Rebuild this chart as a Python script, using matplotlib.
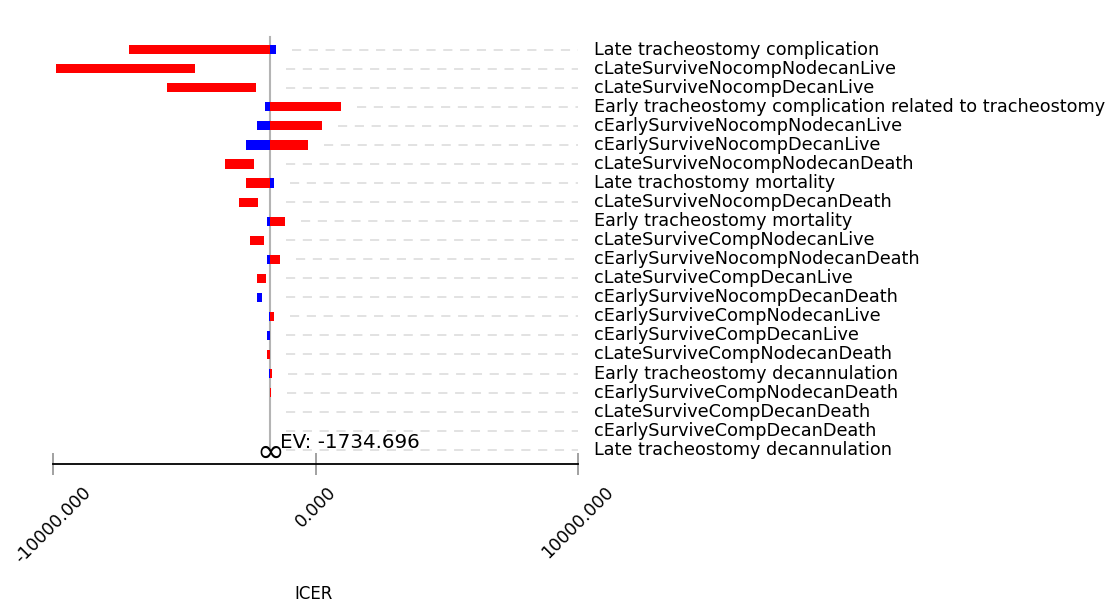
import matplotlib
matplotlib.use("Agg")
import matplotlib.pyplot as plt
import numpy as np

nan = np.nan
ev = -1734.696

labels = ["Late tracheostomy complication",
          "cLateSurviveNocompNodecanLive",
          "cLateSurviveNocompDecanLive",
          "Early tracheostomy complication related to tracheostomy",
          "cEarlySurviveNocompNodecanLive",
          "cEarlySurviveNocompDecanLive",
          "cLateSurviveNocompNodecanDeath",
          "Late trachostomy mortality",
          "cLateSurviveNocompDecanDeath",
          "Early tracheostomy mortality",
          "cLateSurviveCompNodecanLive",
          "cEarlySurviveNocompNodecanDeath",
          "cLateSurviveCompDecanLive",
          "cEarlySurviveNocompDecanDeath",
          "cEarlySurviveCompNodecanLive",
          "cEarlySurviveCompDecanLive",
          "cLateSurviveCompNodecanDeath",
          "Early tracheostomy decannulation",
          "cEarlySurviveCompNodecanDeath",
          "cLateSurviveCompDecanDeath",
          "cEarlySurviveCompDecanDeath",
          "Late tracheostomy decannulation"]

# red and blue segments (start, end) of each row, nan = no segment
red_lo = [-7100, -9900, -5650, ev, ev, ev, -3450, -2630, -2920, ev, -2490,
          ev, -2210, nan, ev, nan, -1840, ev, ev, -1745, nan, nan]
red_hi = [ev, -4590, -2260, 970, 240, -290, -2330, ev, -2200, -1180, -1960,
          -1370, -1890, nan, -1600, nan, ev, -1660, -1700, -1725, nan, nan]
blue_lo = [ev, nan, nan, -1910, -2210, -2630, nan, ev, nan, -1840, nan,
           -1840, nan, -2210, -1790, -1840, nan, -1770, nan, nan, nan, nan]
blue_hi = [-1500, nan, nan, ev, ev, ev, nan, -1600, nan, ev, nan,
           ev, nan, -2030, ev, ev, nan, ev, nan, nan, nan, nan]

xticks = [-10000, 0, 10000]

fig = plt.figure(figsize=(11.1, 6.08), dpi=100)
ax = fig.add_axes([53 / 1110, 1 - 464 / 608, 525 / 1110, 444 / 608])

rows = np.arange(len(labels))
red_lo, red_hi = np.array(red_lo, float), np.array(red_hi, float)
blue_lo, blue_hi = np.array(blue_lo, float), np.array(blue_hi, float)

m = ~np.isnan(red_lo)
ax.barh(rows[m], red_hi[m] - red_lo[m], left=red_lo[m], height=0.48,
        color="#ff0000", zorder=3)
m = ~np.isnan(blue_lo)
ax.barh(rows[m], blue_hi[m] - blue_lo[m], left=blue_lo[m], height=0.48,
        color="#0000ff", zorder=3)

# dashed guide lines start a little after the end of each row's bars
ends = np.nanmax(np.vstack([red_hi, blue_hi, np.full(len(rows), ev)]), axis=0)
for r, e in zip(rows, ends):
    ax.plot([e + 610, 10000], [r, r], color="#dadada", lw=1.1,
            dashes=(6, 5), zorder=1)

ax.plot([ev, ev], [-0.68, 21.0], color="#b4b4b4", lw=1.5, zorder=2)
ax.text(ev, 21.15, "\u221e", fontsize=24, ha="center", va="center", zorder=4)
ax.annotate("EV: %.3f" % ev, xy=(ev, 20.92), xytext=(7, 0),
            textcoords="offset points", fontsize=14.3, va="baseline")

for r, lab in zip(rows, labels):
    ax.text(1.0305, r, lab, transform=ax.get_yaxis_transform(),
            fontsize=12.7, va="center", ha="left")

ax.set_xlim(-10000, 10000)
ax.set_ylim(21.75, -1.56)
ax.set_xticks(xticks)
ax.set_xticklabels(["%.3f" % t for t in xticks], rotation=45, ha="center",
                   fontsize=12.5)
ax.tick_params(axis="x", direction="inout", length=16, width=1.1,
               color="#888888", pad=6)
ax.set_yticks([])
for s in ["top", "left", "right"]:
    ax.spines[s].set_visible(False)
ax.spines["bottom"].set_linewidth(1.3)

fig.text(314 / 1110, 1 - 594 / 608, "ICER", fontsize=12, ha="center",
         va="center")

plt.savefig("out.png", dpi=100)
